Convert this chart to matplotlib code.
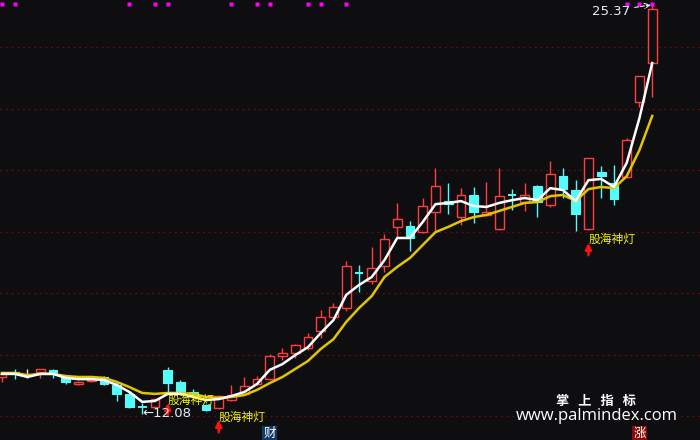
import matplotlib
matplotlib.use('Agg')
import matplotlib.pyplot as plt
import numpy as np

# ---- data (prices) ----
opens = [13.27, 13.43, 13.30, 13.43, 13.50, 13.24, 13.04, 13.14, 13.27, 13.01,
         12.72, 12.29, 12.29, 13.50, 13.11, 12.78, 12.36, 12.26, 12.52, 12.72,
         13.04, 13.20, 13.95, 14.05, 14.21, 14.76, 15.22, 15.51, 16.65, 16.39,
         16.88, 18.15, 18.18, 17.98, 18.63, 18.99, 18.47, 19.19, 18.54, 18.08,
         19.19, 18.96, 19.48, 18.86, 19.80, 19.35, 18.08, 19.94, 19.58, 19.77,
         22.21, 23.48]
highs = [13.43, 13.53, 13.53, 13.53, 13.52, 13.27, 13.14, 13.20, 13.30, 13.11,
         12.81, 12.42, 12.55, 13.59, 13.17, 12.88, 12.39, 12.68, 13.01, 13.27,
         13.30, 14.02, 14.21, 14.33, 14.70, 15.45, 15.67, 17.04, 16.91, 17.50,
         17.92, 18.93, 18.34, 19.09, 20.07, 19.58, 19.41, 19.45, 19.61, 20.07,
         19.38, 19.58, 19.50, 20.29, 20.07, 19.67, 20.40, 20.13, 20.16, 21.04,
         23.06, 25.37]
lows = [13.11, 13.20, 13.24, 13.24, 13.24, 13.04, 13.01, 13.11, 13.01, 12.49,
        12.26, 12.08, 12.26, 12.78, 12.68, 12.59, 12.16, 12.23, 12.49, 12.68,
        13.01, 13.17, 13.82, 13.89, 14.15, 14.54, 15.19, 15.41, 16.03, 16.29,
        16.68, 17.82, 17.37, 17.95, 17.98, 18.57, 18.21, 18.28, 18.50, 18.05,
        18.70, 18.67, 18.47, 18.80, 19.09, 18.02, 18.06, 19.09, 18.86, 19.74,
        22.05, 22.37]
closes = [13.37, 13.37, 13.30, 13.53, 13.40, 13.11, 13.11, 13.17, 13.04, 12.72,
          12.29, 12.29, 12.55, 13.07, 12.75, 12.68, 12.20, 12.65, 12.68, 12.98,
          13.20, 13.95, 14.05, 14.31, 14.57, 15.22, 15.54, 16.88, 16.65, 16.81,
          17.76, 18.41, 17.79, 18.83, 19.48, 18.89, 19.19, 18.63, 18.63, 19.15,
          19.19, 19.19, 18.96, 19.87, 19.38, 18.57, 20.39, 19.80, 19.06, 20.98,
          23.06, 25.24]
# candle colour class: 'up' red hollow, 'dn' cyan, 'eq' white cross
kinds = ['up', 'dn', 'eq', 'up', 'dn', 'dn', 'up', 'up', 'dn', 'dn',
         'dn', 'dn', 'up', 'dn', 'dn', 'dn', 'dn', 'up', 'up', 'up',
         'up', 'up', 'up', 'up', 'up', 'up', 'up', 'up', 'dn', 'up',
         'up', 'up', 'dn', 'up', 'up', 'dn', 'up', 'dn', 'up', 'up',
         'dn', 'up', 'dn', 'up', 'dn', 'dn', 'up', 'dn', 'dn', 'up',
         'up', 'up']

ma_white = [13.37, 13.37, 13.27, 13.37, 13.37, 13.24, 13.20, 13.20, 13.17, 13.01,
            12.78, 12.46, 12.49, 12.72, 12.72, 12.62, 12.52, 12.55, 12.65, 12.78,
            13.04, 13.50, 13.69, 13.98, 14.24, 14.70, 15.12, 15.94, 16.26, 16.52,
            17.07, 17.79, 17.79, 18.31, 18.89, 18.93, 18.99, 18.83, 18.80, 18.93,
            19.02, 19.09, 19.02, 19.41, 19.35, 18.99, 19.67, 19.71, 19.45, 20.23,
            21.69, 23.48]
ma_yellow = [13.40, 13.40, 13.33, 13.37, 13.37, 13.30, 13.27, 13.27, 13.24, 13.11,
             12.94, 12.75, 12.72, 12.75, 12.75, 12.72, 12.62, 12.59, 12.62, 12.68,
             12.85, 13.07, 13.27, 13.53, 13.79, 14.18, 14.50, 15.06, 15.51, 15.90,
             16.52, 16.85, 17.14, 17.56, 17.98, 18.15, 18.34, 18.47, 18.54, 18.67,
             18.80, 18.93, 18.96, 19.15, 19.19, 18.99, 19.38, 19.45, 19.41, 19.80,
             20.65, 21.76]

# "股海神灯" signals: candle index and arrow tip price
sig_idx = [13, 17, 46]
sig_tip = [12.42, 11.87, 17.63]

# magenta markers along the top
dot_idx = [0, 1, 10, 12, 13, 18, 20, 21, 24, 25, 27, 49, 50, 51]

grid_prices = [12, 14, 16, 18, 20, 22, 24]

# bottom event tags
tag_idx = [21, 50]
tag_text = ['财', '涨']
tag_color = ['#123a66', '#8a0a0a']

BG = '#0e0e11'
RED = '#ff3d3d'
CYAN = '#55fafa'
YEL = '#e2c400'

fig = plt.figure(figsize=(7, 4.4), dpi=100, facecolor=BG)
ax = fig.add_axes([0, 0, 1, 1])
ax.set_facecolor(BG)
ax.set_xlim(-0.157, 54.75)
ax.set_ylim(11.22, 25.53)
ax.axis('off')

for g in grid_prices:
    ax.axhline(g, color='#6a0c0c', lw=0.9, ls=(0, (1.5, 3)), zorder=1)

x = np.arange(len(opens))
w = 0.68
for i in x:
    o, h, l, c, k = opens[i], highs[i], lows[i], closes[i], kinds[i]
    if k == 'up':
        ax.vlines(i, l, h, color=RED, lw=1.0, zorder=2)
        ax.bar(i, c - o, bottom=o, width=w, facecolor=BG, edgecolor=RED,
               linewidth=1.0, zorder=3)
    elif k == 'dn':
        ax.vlines(i, l, h, color=CYAN, lw=1.0, zorder=2)
        if abs(o - c) < 1e-6:
            ax.hlines(o, i - w / 2, i + w / 2, color=CYAN, lw=1.4, zorder=3)
        else:
            ax.bar(i, o - c, bottom=c, width=w, facecolor=CYAN, edgecolor=CYAN,
                   linewidth=0.8, zorder=3)
    else:
        ax.vlines(i, l, h, color='#e8e8e8', lw=1.0, zorder=2)
        ax.hlines(o, i - w / 2, i + w / 2, color='#e8e8e8', lw=1.4, zorder=3)

ax.plot(x, ma_yellow, color=YEL, lw=1.8, zorder=4)
ax.plot(x, ma_white, color='white', lw=1.8, zorder=5)

# signals
for i, t in zip(sig_idx, sig_tip):
    ax.annotate('', xy=(i, t), xytext=(i, t - 0.40),
                arrowprops=dict(arrowstyle='-|>', color='#ff1010', lw=1.8,
                                mutation_scale=9, shrinkA=0, shrinkB=0),
                zorder=6)
    ax.text(i + 0.02, t + 0.10, '股海神灯', color='#f4f400', fontsize=8.5,
            family=['Noto Sans CJK SC', 'DejaVu Sans'], ha='left', va='center',
            zorder=7)

ax.plot(dot_idx, [25.41] * len(dot_idx), 's', color='#ff00ff', ms=2.3,
        mec='none', zorder=6)

# high / low marks
hi_i = int(np.argmax(highs))
lo_i = int(np.argmin(lows))
ax.annotate(f'{highs[hi_i]:.2f}', xy=(hi_i - 0.1, highs[hi_i]),
            xytext=(hi_i - 1.7, highs[hi_i] - 0.2), color='#e6ecf5',
            fontsize=9.5, ha='right', va='center',
            arrowprops=dict(arrowstyle='->', color='#e6ecf5', lw=0.8,
                            ls='--', shrinkA=1, shrinkB=0),
            zorder=7)
ax.text(lo_i, lows[lo_i], f'←{lows[lo_i]:.2f}', color='#e6ecf5', fontsize=9.5,
        ha='left', va='center', zorder=7)

for i, s, col in zip(tag_idx, tag_text, tag_color):
    ax.text(i, 11.43, s, color='white', fontsize=9,
            family=['Noto Sans CJK SC', 'DejaVu Sans'], ha='center',
            va='center', zorder=7,
            bbox=dict(boxstyle='square,pad=0.1', facecolor=col,
                      edgecolor='none'))

# watermark
fig.text(596 / 700, 1 - 401 / 440, '掌   上   指   标', color='white',
         fontsize=9.5, fontweight='bold',
         family=['Noto Sans CJK SC', 'DejaVu Sans'], ha='center', va='center')
fig.text(597 / 700, 1 - 416 / 440, 'www.palmindex.com', color='white',
         fontsize=12, family='Open Sans', ha='center', va='center',
         bbox=dict(boxstyle='square,pad=0.1', facecolor=BG, edgecolor='none'))

fig.savefig('out.png', dpi=100, facecolor=BG)
